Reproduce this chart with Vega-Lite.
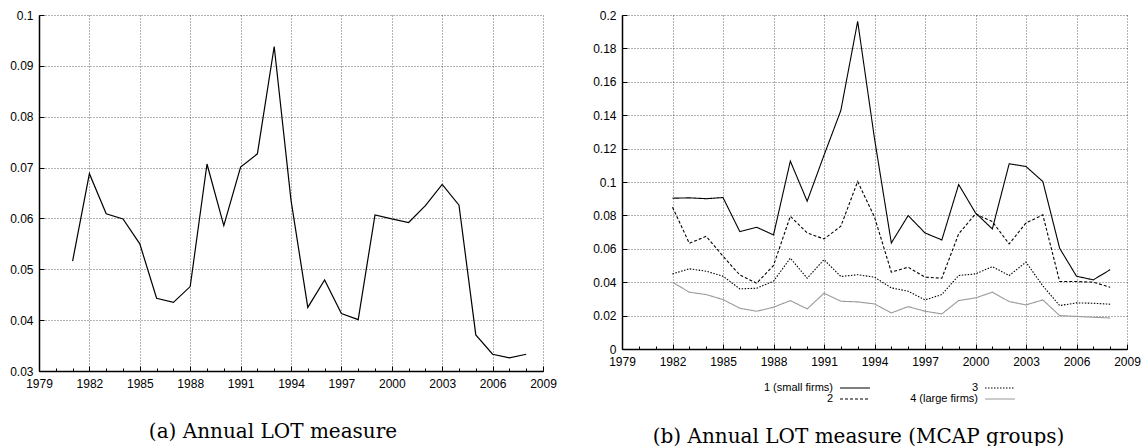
{
  "$schema": "https://vega.github.io/schema/vega-lite/v6.json",
  "padding": {"top": 9, "left": 9, "right": 0, "bottom": 0},
  "spacing": 35,
  "datasets": {
    "total": [
      {"year": 1981, "lot": 0.0516}, {"year": 1982, "lot": 0.0688}, {"year": 1983, "lot": 0.0609},
      {"year": 1984, "lot": 0.0599}, {"year": 1985, "lot": 0.0550}, {"year": 1986, "lot": 0.0443},
      {"year": 1987, "lot": 0.0435}, {"year": 1988, "lot": 0.0466}, {"year": 1989, "lot": 0.0707},
      {"year": 1990, "lot": 0.0586}, {"year": 1991, "lot": 0.0701}, {"year": 1992, "lot": 0.0727},
      {"year": 1993, "lot": 0.0938}, {"year": 1994, "lot": 0.0636}, {"year": 1995, "lot": 0.0425},
      {"year": 1996, "lot": 0.0479}, {"year": 1997, "lot": 0.0413}, {"year": 1998, "lot": 0.0401},
      {"year": 1999, "lot": 0.0607}, {"year": 2000, "lot": 0.0599}, {"year": 2001, "lot": 0.0592},
      {"year": 2002, "lot": 0.0625}, {"year": 2003, "lot": 0.0667}, {"year": 2004, "lot": 0.0626},
      {"year": 2005, "lot": 0.0371}, {"year": 2006, "lot": 0.0333}, {"year": 2007, "lot": 0.0326},
      {"year": 2008, "lot": 0.0333}
    ],
    "groups": [
      {"year": 1982, "group": "1 (small firms)", "lot": 0.0903}, {"year": 1982, "group": "2", "lot": 0.0849}, {"year": 1982, "group": "3", "lot": 0.0450}, {"year": 1982, "group": "4 (large firms)", "lot": 0.0400},
      {"year": 1983, "group": "1 (small firms)", "lot": 0.0905}, {"year": 1983, "group": "2", "lot": 0.0633}, {"year": 1983, "group": "3", "lot": 0.0480}, {"year": 1983, "group": "4 (large firms)", "lot": 0.0340},
      {"year": 1984, "group": "1 (small firms)", "lot": 0.0900}, {"year": 1984, "group": "2", "lot": 0.0675}, {"year": 1984, "group": "3", "lot": 0.0466}, {"year": 1984, "group": "4 (large firms)", "lot": 0.0326},
      {"year": 1985, "group": "1 (small firms)", "lot": 0.0907}, {"year": 1985, "group": "2", "lot": 0.0556}, {"year": 1985, "group": "3", "lot": 0.0436}, {"year": 1985, "group": "4 (large firms)", "lot": 0.0296},
      {"year": 1986, "group": "1 (small firms)", "lot": 0.0703}, {"year": 1986, "group": "2", "lot": 0.0443}, {"year": 1986, "group": "3", "lot": 0.0360}, {"year": 1986, "group": "4 (large firms)", "lot": 0.0244},
      {"year": 1987, "group": "1 (small firms)", "lot": 0.0729}, {"year": 1987, "group": "2", "lot": 0.0394}, {"year": 1987, "group": "3", "lot": 0.0364}, {"year": 1987, "group": "4 (large firms)", "lot": 0.0226},
      {"year": 1988, "group": "1 (small firms)", "lot": 0.0683}, {"year": 1988, "group": "2", "lot": 0.0500}, {"year": 1988, "group": "3", "lot": 0.0406}, {"year": 1988, "group": "4 (large firms)", "lot": 0.0250},
      {"year": 1989, "group": "1 (small firms)", "lot": 0.1125}, {"year": 1989, "group": "2", "lot": 0.0795}, {"year": 1989, "group": "3", "lot": 0.0544}, {"year": 1989, "group": "4 (large firms)", "lot": 0.0290},
      {"year": 1990, "group": "1 (small firms)", "lot": 0.0885}, {"year": 1990, "group": "2", "lot": 0.0695}, {"year": 1990, "group": "3", "lot": 0.0424}, {"year": 1990, "group": "4 (large firms)", "lot": 0.0240},
      {"year": 1991, "group": "1 (small firms)", "lot": 0.1160}, {"year": 1991, "group": "2", "lot": 0.0659}, {"year": 1991, "group": "3", "lot": 0.0535}, {"year": 1991, "group": "4 (large firms)", "lot": 0.0334},
      {"year": 1992, "group": "1 (small firms)", "lot": 0.1428}, {"year": 1992, "group": "2", "lot": 0.0735}, {"year": 1992, "group": "3", "lot": 0.0434}, {"year": 1992, "group": "4 (large firms)", "lot": 0.0286},
      {"year": 1993, "group": "1 (small firms)", "lot": 0.1962}, {"year": 1993, "group": "2", "lot": 0.1003}, {"year": 1993, "group": "3", "lot": 0.0445}, {"year": 1993, "group": "4 (large firms)", "lot": 0.0282},
      {"year": 1994, "group": "1 (small firms)", "lot": 0.1260}, {"year": 1994, "group": "2", "lot": 0.0790}, {"year": 1994, "group": "3", "lot": 0.0430}, {"year": 1994, "group": "4 (large firms)", "lot": 0.0270},
      {"year": 1995, "group": "1 (small firms)", "lot": 0.0635}, {"year": 1995, "group": "2", "lot": 0.0460}, {"year": 1995, "group": "3", "lot": 0.0366}, {"year": 1995, "group": "4 (large firms)", "lot": 0.0216},
      {"year": 1996, "group": "1 (small firms)", "lot": 0.0799}, {"year": 1996, "group": "2", "lot": 0.0490}, {"year": 1996, "group": "3", "lot": 0.0346}, {"year": 1996, "group": "4 (large firms)", "lot": 0.0254},
      {"year": 1997, "group": "1 (small firms)", "lot": 0.0695}, {"year": 1997, "group": "2", "lot": 0.0430}, {"year": 1997, "group": "3", "lot": 0.0294}, {"year": 1997, "group": "4 (large firms)", "lot": 0.0226},
      {"year": 1998, "group": "1 (small firms)", "lot": 0.0653}, {"year": 1998, "group": "2", "lot": 0.0424}, {"year": 1998, "group": "3", "lot": 0.0326}, {"year": 1998, "group": "4 (large firms)", "lot": 0.0210},
      {"year": 1999, "group": "1 (small firms)", "lot": 0.0985}, {"year": 1999, "group": "2", "lot": 0.0689}, {"year": 1999, "group": "3", "lot": 0.0440}, {"year": 1999, "group": "4 (large firms)", "lot": 0.0290},
      {"year": 2000, "group": "1 (small firms)", "lot": 0.0815}, {"year": 2000, "group": "2", "lot": 0.0809}, {"year": 2000, "group": "3", "lot": 0.0450}, {"year": 2000, "group": "4 (large firms)", "lot": 0.0306},
      {"year": 2001, "group": "1 (small firms)", "lot": 0.0719}, {"year": 2001, "group": "2", "lot": 0.0763}, {"year": 2001, "group": "3", "lot": 0.0493}, {"year": 2001, "group": "4 (large firms)", "lot": 0.0340},
      {"year": 2002, "group": "1 (small firms)", "lot": 0.1109}, {"year": 2002, "group": "2", "lot": 0.0629}, {"year": 2002, "group": "3", "lot": 0.0440}, {"year": 2002, "group": "4 (large firms)", "lot": 0.0284},
      {"year": 2003, "group": "1 (small firms)", "lot": 0.1093}, {"year": 2003, "group": "2", "lot": 0.0755}, {"year": 2003, "group": "3", "lot": 0.0520}, {"year": 2003, "group": "4 (large firms)", "lot": 0.0264},
      {"year": 2004, "group": "1 (small firms)", "lot": 0.1003}, {"year": 2004, "group": "2", "lot": 0.0803}, {"year": 2004, "group": "3", "lot": 0.0378}, {"year": 2004, "group": "4 (large firms)", "lot": 0.0294},
      {"year": 2005, "group": "1 (small firms)", "lot": 0.0603}, {"year": 2005, "group": "2", "lot": 0.0404}, {"year": 2005, "group": "3", "lot": 0.0260}, {"year": 2005, "group": "4 (large firms)", "lot": 0.0200},
      {"year": 2006, "group": "1 (small firms)", "lot": 0.0436}, {"year": 2006, "group": "2", "lot": 0.0404}, {"year": 2006, "group": "3", "lot": 0.0276}, {"year": 2006, "group": "4 (large firms)", "lot": 0.0195},
      {"year": 2007, "group": "1 (small firms)", "lot": 0.0414}, {"year": 2007, "group": "2", "lot": 0.0400}, {"year": 2007, "group": "3", "lot": 0.0274}, {"year": 2007, "group": "4 (large firms)", "lot": 0.0190},
      {"year": 2008, "group": "1 (small firms)", "lot": 0.0475}, {"year": 2008, "group": "2", "lot": 0.0370}, {"year": 2008, "group": "3", "lot": 0.0268}, {"year": 2008, "group": "4 (large firms)", "lot": 0.0186}
    ]
  },
  "hconcat": [
    {
      "width": 504,
      "height": 356,
      "title": {"text": "(a) Annual LOT measure", "orient": "bottom", "offset": 33, "dx": -18},
      "data": {"name": "total"},
      "layer": [
        {
          "mark": {"type": "line", "color": "#000", "strokeWidth": 1.2},
          "encoding": {
            "x": {
              "field": "year", "type": "quantitative",
              "scale": {"domain": [1979, 2009], "nice": false, "zero": false},
              "axis": {"title": null, "format": "d", "grid": true, "tickSize": -5, "labelPadding": 12, "labelOverlap": false,
                       "values": [1979, 1982, 1985, 1988, 1991, 1994, 1997, 2000, 2003, 2006, 2009]}
            },
            "y": {
              "field": "lot", "type": "quantitative",
              "scale": {"domain": [0.03, 0.1], "nice": false, "zero": false},
              "axis": {"title": null, "format": ".2~f", "grid": true, "tickSize": -5, "labelPadding": 11, "labelOverlap": false,
                       "values": [0.03, 0.04, 0.05, 0.06, 0.07, 0.08, 0.09, 0.1]}
            }
          }
        },
        {
          "mark": {"type": "line", "opacity": 0},
          "encoding": {
            "x": {
              "field": "year", "type": "quantitative",
              "axis": {"orient": "bottom", "title": null, "labels": false, "grid": false, "domain": false, "tickSize": -3,
                       "values": [1979, 1980, 1981, 1982, 1983, 1984, 1985, 1986, 1987, 1988, 1989, 1990, 1991, 1992, 1993, 1994, 1995, 1996, 1997, 1998, 1999, 2000, 2001, 2002, 2003, 2004, 2005, 2006, 2007, 2008, 2009]}
            },
            "y": {
              "field": "lot", "type": "quantitative",
              "axis": {"title": null, "format": ".2~f", "grid": true, "tickSize": -5, "labelPadding": 11, "labelOverlap": false,
                       "values": [0.03, 0.04, 0.05, 0.06, 0.07, 0.08, 0.09, 0.1]}
            }
          }
        }
      ],
      "resolve": {"axis": {"x": "independent"}}
    },
    {
      "width": 505,
      "height": 334,
      "title": {"text": "(b) Annual LOT measure (MCAP groups)", "orient": "bottom", "offset": 23, "dx": -16},
      "data": {"name": "groups"},
      "layer": [
        {
          "mark": {"type": "line", "strokeWidth": 1.1},
          "encoding": {
            "x": {
              "field": "year", "type": "quantitative",
              "scale": {"domain": [1979, 2009], "nice": false, "zero": false},
              "axis": {"title": null, "format": "d", "grid": true, "tickSize": -5, "labelPadding": 12, "labelOverlap": false,
                       "values": [1979, 1982, 1985, 1988, 1991, 1994, 1997, 2000, 2003, 2006, 2009]}
            },
            "y": {
              "field": "lot", "type": "quantitative",
              "scale": {"domain": [0, 0.2], "nice": false},
              "axis": {"title": null, "format": ".2~f", "grid": true, "tickSize": -5, "labelPadding": 11, "labelOverlap": false,
                       "values": [0, 0.02, 0.04, 0.06, 0.08, 0.1, 0.12, 0.14, 0.16, 0.18, 0.2]}
            },
            "color": {
              "field": "group", "type": "nominal",
              "scale": {"domain": ["1 (small firms)", "2", "3", "4 (large firms)"],
                        "range": ["#000000", "#000000", "#000000", "#9a9a9a"]},
              "legend": {"title": null, "orient": "none", "legendX": 227, "legendY": 367, "columns": 2,
                         "symbolType": "M-3,0H3", "symbolSize": 100, "symbolStrokeWidth": 1.1,
                         "labelAlign": "right", "labelOffset": -28, "rowPadding": -6, "columnPadding": 37, "padding": 0}
            },
            "strokeDash": {
              "field": "group", "type": "nominal",
              "scale": {"domain": ["1 (small firms)", "2", "3", "4 (large firms)"],
                        "range": [[1, 0], [3, 2], [1.5, 1.5], [1, 0]]},
              "legend": {"title": null, "orient": "none", "legendX": 227, "legendY": 367, "columns": 2,
                         "symbolType": "M-3,0H3", "symbolSize": 100, "symbolStrokeWidth": 1.1,
                         "labelAlign": "right", "labelOffset": -28, "rowPadding": -6, "columnPadding": 37, "padding": 0}
            }
          }
        },
        {
          "mark": {"type": "line", "opacity": 0},
          "encoding": {
            "x": {
              "field": "year", "type": "quantitative",
              "axis": {"orient": "bottom", "title": null, "labels": false, "grid": false, "domain": false, "tickSize": -3,
                       "values": [1979, 1980, 1981, 1982, 1983, 1984, 1985, 1986, 1987, 1988, 1989, 1990, 1991, 1992, 1993, 1994, 1995, 1996, 1997, 1998, 1999, 2000, 2001, 2002, 2003, 2004, 2005, 2006, 2007, 2008, 2009]}
            },
            "y": {
              "field": "lot", "type": "quantitative",
              "axis": {"title": null, "format": ".2~f", "grid": true, "tickSize": -5, "labelPadding": 11, "labelOverlap": false,
                       "values": [0, 0.02, 0.04, 0.06, 0.08, 0.1, 0.12, 0.14, 0.16, 0.18, 0.2]}
            },
            "detail": {"field": "group", "type": "nominal"}
          }
        }
      ],
      "resolve": {"axis": {"x": "independent"}}
    }
  ],
  "resolve": {"scale": {"color": "independent", "strokeDash": "independent"}},
  "config": {
    "view": {"stroke": null},
    "axis": {
      "labelFont": "Liberation Sans", "labelFontSize": 12, "labelColor": "#000", "labelOverlap": false, "labelFlush": false,
      "domainColor": "#000", "domainWidth": 1.5, "tickColor": "#000", "tickWidth": 1,
      "gridColor": "#000", "gridDash": [1, 2], "gridWidth": 0.8, "gridOpacity": 0.75
    },
    "legend": {"labelFont": "Liberation Sans", "labelFontSize": 11, "labelColor": "#000"},
    "title": {"font": "DejaVu Serif", "fontSize": 20, "fontWeight": "normal", "color": "#000", "anchor": "middle"}
  }
}
